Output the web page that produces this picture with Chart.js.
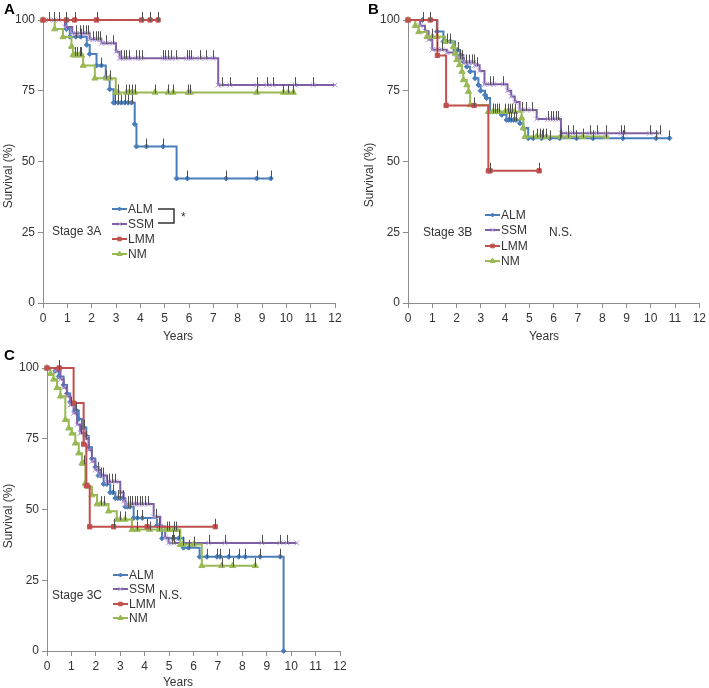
<!DOCTYPE html>
<html>
<head>
<meta charset="utf-8">
<script src="https://cdn.jsdelivr.net/npm/chart.js@4.4.1/dist/chart.umd.min.js"></script>
<style>
  body { margin: 0; background: #fff; }
  #wrap { position: relative; width: 709px; height: 688px; overflow: hidden; }
  canvas { position: absolute; }
</style>
</head>
<body>
<div id="wrap">
  <canvas id="panelA" width="360" height="345" style="left:0;top:0"></canvas>
  <canvas id="panelB" width="349" height="345" style="left:360px;top:0"></canvas>
  <canvas id="panelC" width="360" height="348" style="left:0;top:340px"></canvas>
</div>
<script>
// ---- data: time (years), survival (%) at each event, censor times ----
const groupNames = ['ALM', 'SSM', 'LMM', 'NM'];
const xTicks = [0, 1, 2, 3, 4, 5, 6, 7, 8, 9, 10, 11, 12];
const yTicks = [0, 25, 50, 75, 100];

// Stage 3A
const aAlmT = [0, 0.96, 1.1, 1.8, 1.92, 2.2, 2.58, 2.74, 2.9, 3.77, 3.84, 5.49];
const aAlmS = [100, 96.8, 94.1, 91.2, 88, 83.9, 79.8, 75.5, 70.8, 63.2, 55.3, 44];
const aAlmC = [1.35, 1.55, 2.4, 2.95, 3.09, 3.22, 3.36, 3.5, 3.64, 4.25, 4.94, 5.93, 7.52, 8.78, 9.36];
const aSsmT = [0, 0.9, 1.2, 1.92, 2.4, 3.0, 3.15, 7.2, 12];
const aSsmS = [100, 97.5, 95.3, 93.2, 91.8, 88.8, 86.5, 77, 77];
const aSsmC = [0.25, 0.45, 0.65, 1.37, 1.51, 1.65, 1.78, 1.85, 2.06, 2.19, 2.26, 2.33, 2.6, 2.88,
  3.22, 3.32, 3.43, 3.54, 3.84, 3.95, 4.05, 4.94, 5.03, 5.14, 5.28, 5.46, 5.9, 6.0, 6.1, 6.45,
  6.69, 7.0, 7.34, 7.68, 8.78, 9.19, 9.44, 10.36, 11.11];
const aLmmT = [0];
const aLmmS = [100];
const aLmmC = [0.96, 1.3, 2.2, 4.05, 4.4, 4.73];
const aNmT = [0, 0.48, 0.82, 1.17, 1.23, 1.65, 2.13, 2.99];
const aNmS = [100, 96.8, 94, 90.6, 87.6, 83.9, 79.4, 74.4];
const aNmC = [1.32, 1.41, 1.5, 1.58, 2.6, 2.74, 3.09, 3.43, 3.54, 3.64, 3.77, 4.6, 5.14, 5.35,
  5.97, 6.06, 8.78, 9.88, 10.08, 10.29];

// Stage 3B
const bAlmT = [0, 1.19, 1.46, 1.94, 2.15, 2.28, 2.42, 2.56, 2.76, 2.9, 2.99, 3.17, 3.24, 3.38, 3.86, 4.06, 4.61, 4.75, 4.95];
const bAlmS = [100, 95.9, 92.4, 89.4, 87.6, 85.3, 83.5, 81.8, 79.4, 77, 75, 73.5, 72.4, 67.6, 66.5, 64.7, 63.5, 61.8, 58.2];
const bAlmC = [0.6, 1.6, 1.75, 2.05, 3.5, 3.65, 4.15, 4.25, 4.35, 4.45, 5.16, 5.5, 5.84, 6.25,
  6.94, 7.62, 8.85, 10.22, 10.77];
const bSsmT = [0, 0.5, 0.7, 0.85, 1.0, 1.6, 2.0, 2.3, 2.75, 2.95, 3.15, 4.1, 4.25, 4.4, 4.6, 5.3, 6.3];
const bSsmS = [100, 98, 96, 93, 89.5, 88.5, 86.5, 85, 84, 82, 77.3, 75, 73, 71, 68.2, 65, 60];
const bSsmC = [1.2, 1.4, 2.15, 2.22, 2.4, 2.5, 2.63, 2.7, 2.83, 3.38, 3.52, 3.93, 4.68, 4.88,
  5.09, 5.77, 5.87, 5.98, 6.09, 6.18, 6.59, 6.8, 7.48, 7.78, 8.17, 8.78, 8.89, 9.95, 10.36];
const bLmmT = [0, 1.21, 1.57, 3.31];
const bLmmS = [100, 87.5, 69.8, 46.7];
const bLmmC = [0.92, 2.72, 3.38, 5.4];
const bNmT = [0, 0.3, 0.44, 0.78, 1.53, 1.87, 1.94, 2.01, 2.12, 2.22, 2.28, 2.42, 2.49, 2.56, 3.31, 4.68, 4.75, 4.82];
const bNmS = [100, 98, 95.8, 94.1, 92.4, 90.6, 88.2, 85.9, 84.1, 81.8, 78.8, 77, 74.7, 70, 67.6, 65.3, 61.8, 58.8];
const bNmC = [1.0, 1.2, 3.5, 3.6, 3.75, 4.0, 4.1, 4.2, 4.3, 4.4, 5.3, 5.45, 5.55, 5.7, 6.3, 6.6, 7.2, 8.17];

// Stage 3C
const cAlmT = [0, 0.34, 0.48, 0.68, 0.82, 0.95, 1.16, 1.3, 1.43, 1.61, 1.71, 1.84, 1.98, 2.11,
  2.32, 2.59, 2.8, 3.21, 3.55, 4.5, 4.71, 5.59, 6.25, 9.69];
const cAlmS = [100, 99, 97, 94, 91, 88, 85, 82, 79, 76, 72, 68, 65, 62, 59, 56, 54, 51, 47, 44.3, 39.8, 36.5, 33.3, 0];
const cAlmC = [1.2, 1.5, 2.2, 2.45, 2.7, 2.9, 3.0, 3.1, 3.3, 3.4, 3.7, 3.9, 4.6, 5.18, 5.39, 5.8,
  6.55, 6.96, 7.09, 7.44, 7.85, 8.12, 8.73, 9.55];
const cSsmT = [0, 0.34, 0.55, 0.68, 0.82, 0.95, 1.09, 1.23, 1.36, 1.57, 1.71, 1.84, 1.98, 2.18,
  2.46, 3.0, 3.14, 3.21, 4.37, 4.64, 4.84, 4.98, 10.23];
const cSsmS = [100, 99, 96, 93, 90, 87, 84, 80, 77, 75, 71, 67, 64, 62, 59.8, 56, 53, 51.9, 47.4, 44, 40, 38.2, 38.2];
const cSsmC = [1.0, 1.4, 1.6, 2.1, 2.3, 2.52, 2.66, 2.8, 3.3, 3.4, 3.5, 3.6, 3.7, 3.8, 3.9, 4.0,
  4.15, 4.45, 5.1, 5.2, 6.62, 7.3, 8.8, 9.55, 9.82];
const cLmmT = [0, 1.09, 1.5, 1.61, 1.75];
const cLmmS = [100, 87.6, 73.1, 58.4, 43.9];
const cLmmC = [0.5, 2.73, 4.1, 6.89];
const cNmT = [0, 0.14, 0.27, 0.41, 0.55, 0.75, 0.89, 1.02, 1.16, 1.3, 1.43, 1.57, 1.71, 1.84, 2.05, 2.52, 2.86, 3.48, 5.46, 6.34];
const cNmS = [100, 98, 96, 93, 90, 81.7, 78.7, 76.9, 73.4, 69.9, 66.3, 59.2, 58, 55.1, 51.9, 49.4, 46.5, 42.9, 37.6, 30.1];
const cNmC = [1.5, 2.2, 2.35, 3.0, 3.2, 3.7, 4.2, 4.6, 4.9, 5.0, 5.2, 5.3, 5.55, 6.0, 7.15, 7.6, 8.53];

// ---- styles ----
const FONT = "'Liberation Sans', Arial, sans-serif";
const styles = [
  { line: '#4A7EBB', mark: '#4A7EBB', pointStyle: 'rectRot', radius: 2.5, order: 4 },
  { line: '#7F60A5', mark: '#B39CD6', pointStyle: 'crossRot', radius: 3.5, order: 3 },
  { line: '#C0504D', mark: '#C0504D', pointStyle: 'rect', radius: 3, order: 1 },
  { line: '#98B954', mark: '#98B954', pointStyle: 'triangle', radius: 3.5, order: 2 }
];

function stepAt(T, S, t) {
  let v = S[0];
  for (let i = 0; i < T.length; i++) if (T[i] <= t) v = S[i];
  return v;
}

function makeDataset(i, T, S, C) {
  const cens = C.map(t => ({ x: t, y: stepAt(T, S, t) }));
  const pts = T.map((t, k) => ({ x: t, y: S[k] })).concat(cens).sort((a, b) => a.x - b.x);
  const st = styles[i];
  return {
    label: groupNames[i],
    data: pts,
    cens: cens,
    stepped: true,
    borderColor: st.line,
    borderWidth: 2,
    pointStyle: st.pointStyle,
    pointRadius: st.radius,
    pointBackgroundColor: st.mark,
    pointBorderColor: st.mark,
    pointBorderWidth: 1,
    order: st.order,
    clip: false
  };
}

const kmPlugin = {
  id: 'km',
  afterDatasetsDraw(chart) {
    const ctx = chart.ctx, xs = chart.scales.x, ys = chart.scales.y;
    ctx.save();
    ctx.strokeStyle = '#505050';
    ctx.lineWidth = 1;
    chart.data.datasets.forEach(ds => {
      ds.cens.forEach(p => {
        const px = Math.round(xs.getPixelForValue(p.x)) + 0.5;
        const py = ys.getPixelForValue(p.y);
        ctx.beginPath();
        ctx.moveTo(px, py + 1);
        ctx.lineTo(px, py - 8);
        ctx.stroke();
      });
    });
    ctx.restore();
  },
  afterDraw(chart, args, o) {
    const ctx = chart.ctx;
    ctx.save();
    ctx.fillStyle = '#000';
    ctx.font = 'bold 15px ' + FONT;
    ctx.textBaseline = 'top';
    ctx.fillText(o.letter, o.letterX, o.letterY);

    ctx.fillStyle = '#333';
    ctx.font = '12px ' + FONT;
    ctx.textBaseline = 'middle';
    ctx.textAlign = 'center';
    ctx.fillText('Years', o.xTitleX, o.xTitleY);
    ctx.save();
    ctx.translate(o.yTitleX, o.yTitleY);
    ctx.rotate(-Math.PI / 2);
    ctx.fillText('Survival (%)', 0, 0);
    ctx.restore();

    ctx.textAlign = 'left';
    ctx.fillText(o.stage, o.stageX, o.stageY);
    if (o.note) ctx.fillText(o.note, o.noteX, o.noteY);

    // legend
    chart.data.datasets.forEach((ds, i) => {
      const y = o.legRows[i];
      const st = styles[i];
      ctx.strokeStyle = st.line;
      ctx.lineWidth = 2;
      ctx.beginPath();
      ctx.moveTo(o.legX, y);
      ctx.lineTo(o.legX + 15, y);
      ctx.stroke();
      ctx.fillStyle = st.mark;
      ctx.strokeStyle = st.mark;
      ctx.lineWidth = 1;
      Chart.helpers.drawPoint(ctx, { pointStyle: st.pointStyle, radius: st.radius - 0.5, rotation: 0, borderWidth: 1 }, o.legX + 7.5, y);
      ctx.fillStyle = '#333';
      ctx.fillText(ds.label, o.legX + 16, y + 0.5);
    });

    if (o.bracket) {
      const b = o.bracket;
      ctx.strokeStyle = '#333';
      ctx.lineWidth = 1.5;
      ctx.beginPath();
      ctx.moveTo(b.x1, b.y1);
      ctx.lineTo(b.x2, b.y1);
      ctx.lineTo(b.x2, b.y2);
      ctx.lineTo(b.x1, b.y2);
      ctx.stroke();
      ctx.fillStyle = '#333';
      ctx.fillText('*', b.x2 + 7, (b.y1 + b.y2) / 2 + 2);
    }
    ctx.restore();
  }
};

function makePanel(id, sets, pad, yWidth, xHeight, km) {
  new Chart(document.getElementById(id), {
    type: 'line',
    data: { datasets: sets.map((g, i) => makeDataset(i, g[0], g[1], g[2])) },
    options: {
      responsive: false,
      animation: false,
      devicePixelRatio: 1,
      layout: { padding: pad },
      plugins: { legend: { display: false }, tooltip: { enabled: false }, km: km },
      scales: {
        x: {
          type: 'linear', min: 0, max: 12,
          afterFit: s => { s.height = xHeight; },
          afterBuildTicks: s => { s.ticks = xTicks.map(v => ({ value: v })); },
          border: { display: true, color: '#8c8c8c', width: 1 },
          grid: { drawOnChartArea: false, drawTicks: true, tickLength: 5, color: '#8c8c8c' },
          ticks: { color: '#333', font: { size: 12, family: FONT }, padding: 3, maxRotation: 0 }
        },
        y: {
          min: 0, max: 100,
          afterFit: s => { s.width = yWidth; },
          afterBuildTicks: s => { s.ticks = yTicks.map(v => ({ value: v })); },
          border: { display: true, color: '#8c8c8c', width: 1 },
          grid: { drawOnChartArea: false, drawTicks: true, tickLength: 5, color: '#8c8c8c' },
          ticks: { color: '#333', font: { size: 12, family: FONT }, padding: 3 }
        }
      }
    },
    plugins: [kmPlugin]
  });
}

makePanel('panelA',
  [[aAlmT, aAlmS, aAlmC], [aSsmT, aSsmS, aSsmC], [aLmmT, aLmmS, aLmmC], [aNmT, aNmS, aNmC]],
  { left: 0, top: 20, right: 25, bottom: 0 }, 43, 42,
  { letter: 'A', letterX: 4, letterY: 2, xTitleX: 178, xTitleY: 337, yTitleX: 9, yTitleY: 176,
    stage: 'Stage 3A', stageX: 52, stageY: 232, note: '', legX: 112, legRows: [209, 224, 239, 254],
    bracket: { x1: 158, x2: 174, y1: 209, y2: 223 } });

makePanel('panelB',
  [[bAlmT, bAlmS, bAlmC], [bSsmT, bSsmS, bSsmC], [bLmmT, bLmmS, bLmmC], [bNmT, bNmS, bNmC]],
  { left: 0, top: 20, right: 9, bottom: 0 }, 48, 42,
  { letter: 'B', letterX: 8, letterY: 2, xTitleX: 184, xTitleY: 337, yTitleX: 10, yTitleY: 175,
    stage: 'Stage 3B', stageX: 63, stageY: 233, note: 'N.S.', noteX: 189, noteY: 233,
    legX: 125, legRows: [215, 230, 246, 261] });

makePanel('panelC',
  [[cAlmT, cAlmS, cAlmC], [cSsmT, cSsmS, cSsmC], [cLmmT, cLmmS, cLmmC], [cNmT, cNmS, cNmC]],
  { left: 0, top: 28, right: 20, bottom: 0 }, 47, 37,
  { letter: 'C', letterX: 4, letterY: 8, xTitleX: 178, xTitleY: 343, yTitleX: 9, yTitleY: 176,
    stage: 'Stage 3C', stageX: 52, stageY: 256, note: 'N.S.', noteX: 159, noteY: 256,
    legX: 113, legRows: [235, 249, 264, 278] });
</script>
</body>
</html>
